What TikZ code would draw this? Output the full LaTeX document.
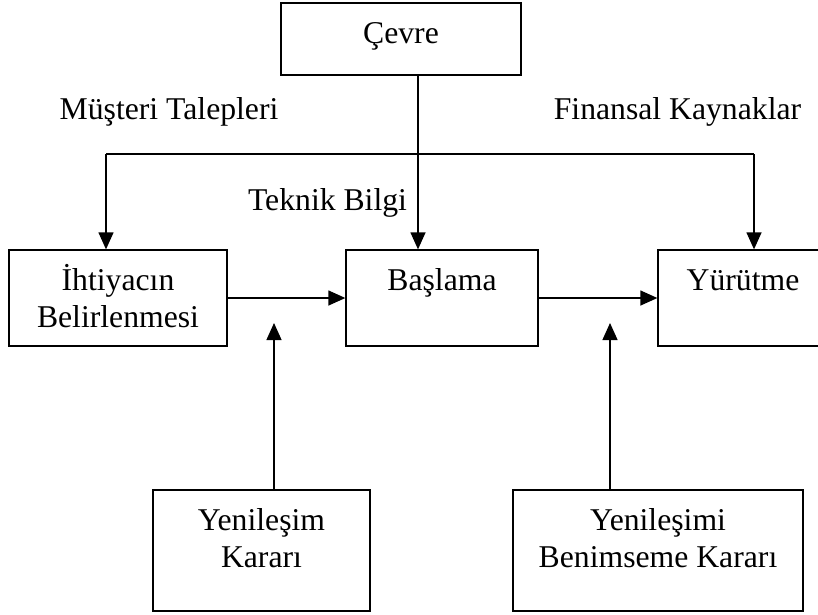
\documentclass[tikz,border=0pt]{standalone}
\usepackage{fontspec}
\setmainfont{Liberation Serif}
\usetikzlibrary{arrows.meta}
\tikzset{
  kutu/.style={draw, line width=1.3pt, inner sep=0pt},
  yazi/.style={anchor=base, align=center, inner sep=0pt},
  ok/.style={-{Triangle[length=17pt,width=15pt]}, line width=1.3pt}
}
\begin{document}
\begin{tikzpicture}[x=1pt,y=-1pt,font=\fontsize{31.7}{37}\selectfont]
    \useasboundingbox (0,0) rectangle (818,614);
    % kutular
    \node [kutu, minimum width=240pt, minimum height=72pt] (cevre) at (401,39) {};
    \node [kutu, minimum width=218pt, minimum height=96pt] (ihtiyac) at (118,298) {};
    \node [kutu, minimum width=192pt, minimum height=96pt] (basla) at (442,298) {};
    \node [kutu, minimum width=170pt, minimum height=96pt] (yurut) at (743,298) {};
    \node [kutu, minimum width=217pt, minimum height=121pt] (karar) at (261.5,550.5) {};
    \node [kutu, minimum width=290pt, minimum height=121pt] (benim) at (658,550.5) {};
    % kutu yazilari (base = son satir)
    \node [yazi] (cevreT) at ([yshift=-41pt]cevre.north) {Çevre};
    \node [yazi] (ihtiyacT) at ([yshift=-78pt]ihtiyac.north) {İhtiyacın\\Belirlenmesi};
    \node [yazi] (baslaT) at ([yshift=-41pt]basla.north) {Başlama};
    \node [yazi] (yurutT) at ([yshift=-41pt]yurut.north) {Yürütme};
    \node [yazi] (kararT) at ([yshift=-78pt]karar.north) {Yenileşim\\Kararı};
    \node [yazi] (benimT) at ([yshift=-78pt]benim.north) {Yenileşimi\\Benimseme Kararı};
    % girdiler
    \node [yazi] (musteri) at (169,119) {Müşteri Talepleri};
    \node [yazi] (finans) at (677.5,119) {Finansal Kaynaklar};
    \node [yazi] (teknik) at (327.5,210) {Teknik Bilgi};
    \coordinate (ayrim) at (418,154);
    \coordinate (solU) at (106,154);
    \coordinate (sagU) at (754,154);
    \coordinate (uc1) at (274,323);
    \coordinate (uc2) at (610,323);
    \draw [line width=1.3pt] (solU) -- (sagU);
    \draw [ok] (cevre.south -| ayrim) -- (basla.north -| ayrim);
    \draw [ok] (solU) -- (solU |- ihtiyac.north);
    \draw [ok] (sagU) -- (sagU |- yurut.north);
    \draw [ok] (ihtiyac.east) -- (basla.west);
    \draw [ok] (basla.east) -- (yurut.west);
    \draw [ok] (karar.north -| uc1) -- (uc1);
    \draw [ok] (benim.north -| uc2) -- (uc2);
  \end{tikzpicture}
\end{document}
